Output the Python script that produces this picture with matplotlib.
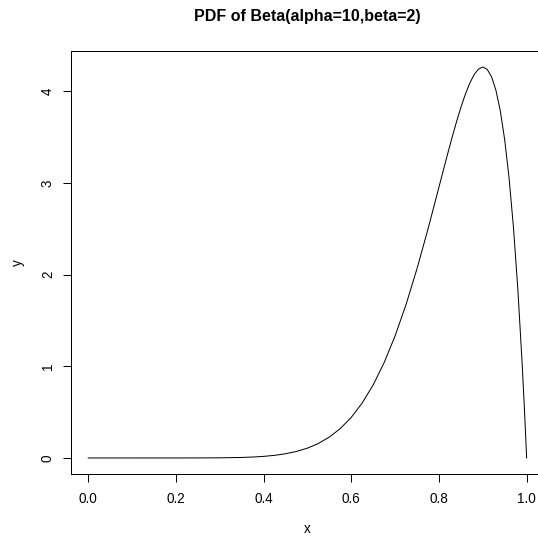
import matplotlib
matplotlib.use("Agg")
import matplotlib.pyplot as plt

# density values
x = [0.0, 0.1, 0.2, 0.25, 0.3, 0.35, 0.375, 0.4, 0.425, 0.45, 0.475, 0.5,
     0.525, 0.55, 0.575, 0.6, 0.625, 0.65, 0.675, 0.7, 0.725, 0.75, 0.775,
     0.8, 0.81, 0.82, 0.83, 0.84, 0.85, 0.86, 0.87, 0.88, 0.89, 0.9, 0.91,
     0.92, 0.93, 0.94, 0.95, 0.96, 0.97, 0.98, 0.99, 0.995, 1.0]
y = [0.0, 0.0, 0.00005, 0.0003, 0.0015, 0.0056, 0.0101, 0.0173, 0.0286,
     0.0458, 0.0711, 0.107, 0.158, 0.228, 0.321, 0.443, 0.600, 0.797, 1.040,
     1.332, 1.674, 2.065, 2.496, 2.953, 3.137, 3.319, 3.496, 3.665, 3.822,
     3.963, 4.083, 4.178, 4.239, 4.262, 4.237, 4.155, 4.007, 3.782, 3.466,
     3.047, 2.509, 1.834, 1.005, 0.526, 0.0]

xticks = [0.0, 0.2, 0.4, 0.6, 0.8, 1.0]
xticklabels = ["0.0", "0.2", "0.4", "0.6", "0.8", "1.0"]
yticks = [0, 1, 2, 3, 4]

plt.rcParams['font.family'] = ['Liberation Sans', 'DejaVu Sans']

fig = plt.figure(figsize=(538 / 72, 538 / 72), dpi=72)
ax = fig.add_axes([0.1314, 0.1197, 0.8801, 0.7848])

ax.plot(x, y, color="black", lw=1)

# R style 4% padding
ax.set_xlim(-0.04, 1.04)
ymax = max(y)
ax.set_ylim(-0.04 * ymax, ymax * 1.04)

ax.set_xticks(xticks)
ax.set_xticklabels(xticklabels)
ax.set_yticks(yticks)
ax.set_yticklabels([str(v) for v in yticks], rotation=90, va="center")

ax.tick_params(direction="out", length=7.8, width=1, labelsize=13.5, colors="black")
ax.tick_params(axis="x", pad=11)
ax.tick_params(axis="y", pad=8)
for s in ax.spines.values():
    s.set_linewidth(1)
    s.set_color("black")

ax.set_xlabel("x", fontsize=13.5, labelpad=16)
ax.set_ylabel("y", fontsize=13.5, labelpad=16)
fig.text(0.5716, 1 - 17 / 538, "PDF of Beta(alpha=10,beta=2)", ha="center",
         va="center", fontsize=16, fontweight="bold")

fig.savefig("out.png", dpi=72)
